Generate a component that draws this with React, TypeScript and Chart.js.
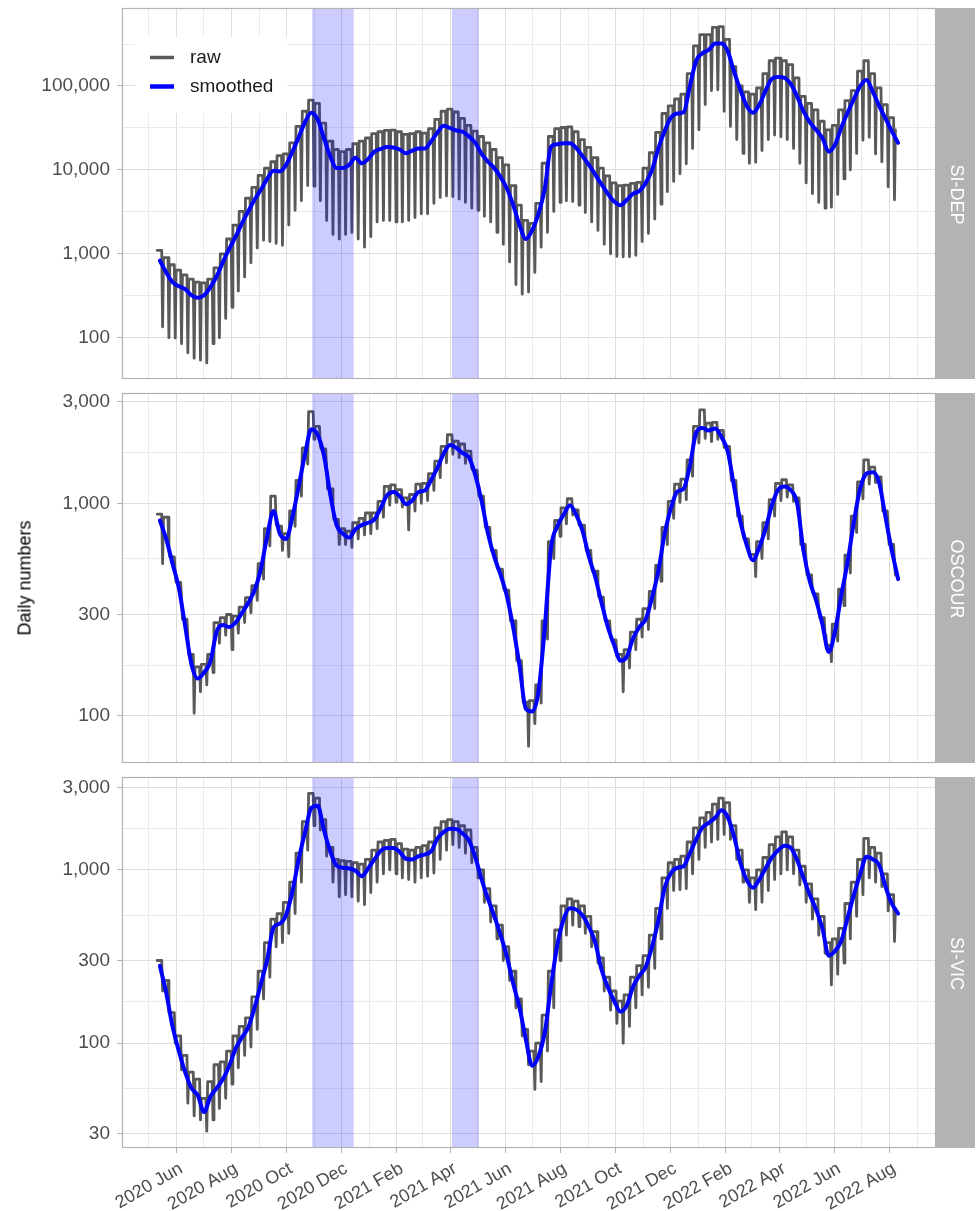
import React, { useEffect, useRef } from 'react';
import { Chart, registerables } from 'chart.js';

Chart.register(...registerables);

const FONT = '"Liberation Sans", Arial, Helvetica, sans-serif';
const MONTH_NAMES = ['Jan', 'Feb', 'Mar', 'Apr', 'May', 'Jun', 'Jul', 'Aug', 'Sep', 'Oct', 'Nov', 'Dec'];

// Week i starts on Monday WEEK0_MONDAY + 7*i (weekly readings of the picture)
const WEEK0_MONDAY = '2020-05-11';
const DATA_START = '2020-05-13';
const DATA_END = '2022-08-12';
const LOCKDOWN_PERIODS: [string, string][] = [
  ['2020-10-30', '2020-12-15'],
  ['2021-04-03', '2021-05-03'],
];

const SIDEP_MAJOR = [100, 1000, 10000, 100000];
const OSCOUR_MAJOR = [100, 300, 1000, 3000];
const SIVIC_MAJOR = [30, 100, 300, 1000, 3000];

// ---------- SI-DEP ----------
const sidepSmooth = [
  830, 600, 460, 410, 380, 320, 300, 320, 400, 540,
  800, 1150, 1600, 2300, 3200, 4400, 5800, 7800, 9800, 9600,
  11500, 16500, 24500, 37000, 48000, 40000, 24000, 14500, 10500, 10500,
  11500, 14000, 12000, 13500, 16500, 17800, 18800, 18500, 17500, 15800,
  17000, 18000, 18000, 22000, 28000, 33500, 31500, 29500, 28500, 25000,
  21000, 15500, 12500, 10500, 8200, 6000, 3800, 2200, 1500, 1900,
  3000, 6000, 19000, 20200, 20800, 20800, 18200, 14500, 11500, 8800,
  6700, 5200, 4200, 3800, 4400, 5200, 5600, 7000, 10000, 18000,
  29000, 42000, 47000, 48500, 100000, 200000, 245000, 270000, 320000, 320000,
  260000, 148000, 90000, 58000, 48000, 60000, 88000, 122000, 128000, 125000,
  105000, 75000, 50000, 37000, 30000, 24000, 16500, 20000, 32000, 48000,
  70000, 100000, 118000, 85000, 58000, 41000, 29000, 21000,
];
const sidepHigh = [
  1100, 900, 740, 640, 560, 500, 460, 450, 500, 680,
  1000, 1500, 2200, 3200, 4600, 6200, 8600, 10500, 12500, 14800,
  15500, 21000, 33000, 50000, 68000, 62000, 36000, 22000, 17500, 16500,
  17500, 20500, 22000, 24000, 27000, 28500, 29500, 29700, 28500, 26500,
  27000, 28500, 27500, 31000, 40000, 50000, 53000, 49000, 41000, 34000,
  29000, 25000, 21000, 17500, 14000, 11500, 6500, 3800, 2500, 2300,
  4000, 12000, 25000, 31000, 32000, 32500, 28500, 23000, 18500, 14000,
  10500, 8500, 7000, 6500, 6600, 6900, 7100, 10500, 16000, 28000,
  47000, 58000, 70000, 80000, 140000, 300000, 410000, 410000, 500000, 510000,
  360000, 170000, 100000, 85000, 80000, 95000, 140000, 200000, 215000, 200000,
  180000, 125000, 75000, 62000, 52000, 38000, 30000, 34000, 52000, 67000,
  88000, 150000, 200000, 140000, 95000, 60000, 42000, 30000,
];
const sidepLow = [
  135, 100, 99, 85, 66, 57, 54, 50, 85, 100,
  170, 230, 360, 530, 780, 1170, 1450, 1400, 1330, 1260,
  2200, 3300, 4300, 6500, 6400, 4300, 2500, 1700, 1500, 1700,
  1800, 1500, 1200, 1600, 2400, 2500, 2500, 2400, 2400, 2500,
  2700, 3000, 3000, 4000, 4700, 4900, 4800, 4500, 4100, 3500,
  3300, 2800, 2400, 1800, 1300, 800, 430, 330, 350, 600,
  1200, 1800, 3200, 4100, 4300, 4200, 3800, 3100, 2400, 1900,
  1300, 1000, 930, 920, 920, 960, 1400, 1750, 2600, 3900,
  5500, 7300, 9000, 11800, 18000, 30000, 60000, 88000, 90000, 50000,
  33000, 23000, 15700, 12000, 12300, 17000, 23000, 26000, 24800, 23000,
  18000, 12000, 7000, 5200, 4100, 3500, 3600, 5100, 7800, 10000,
  15700, 22600, 24500, 15500, 12500, 6300, 4400, null,
];

// ---------- OSCOUR ----------
const oscourSmooth = [
  830, 680, 520, 400, 265, 175, 150, 160, 180, 250,
  268, 262, 275, 305, 340, 390, 490, 700, 920, 720,
  680, 860, 1200, 1700, 2230, 2100, 1680, 1100, 790, 720,
  690, 755, 790, 810, 840, 950, 1090, 1130, 1080, 990,
  1030, 1130, 1150, 1290, 1470, 1720, 1880, 1820, 1720, 1640,
  1350, 1020, 720, 560, 460, 365, 260, 172, 108, 105,
  130, 260, 620, 780, 885, 980, 880, 740, 560, 450,
  340, 262, 215, 182, 190, 232, 262, 285, 360, 480,
  720, 950, 1134, 1170, 1500, 2150, 2260, 2200, 2250, 2050,
  1750, 1200, 820, 637, 540, 620, 760, 980, 1160, 1200,
  1150, 1000, 600, 430, 350, 270, 200, 250, 370, 530,
  820, 1176, 1380, 1400, 1250, 860, 600, 440,
];
const oscourHigh = [
  890, 860, 560, 425, 285, 195, 170, 175, 195, 275,
  290, 300, 295, 325, 360, 410, 520, 760, 1080, 780,
  720, 920, 1280, 1820, 2700, 2300, 1800, 1170, 840, 760,
  740, 810, 850, 900, 900, 1020, 1200, 1220, 1160, 1060,
  1100, 1230, 1240, 1380, 1580, 1850, 2100, 1960, 1900, 1760,
  1430, 1080, 770, 600, 490, 390, 280, 182, 116, 118,
  140, 280, 660, 830, 950, 1050, 930, 790, 600, 480,
  362, 280, 228, 195, 205, 248, 285, 320, 385, 510,
  770, 1020, 1230, 1300, 1600, 2300, 2750, 2380, 2400, 2200,
  1850, 1280, 870, 680, 575, 660, 810, 1040, 1240, 1290,
  1220, 1060, 640, 460, 375, 290, 215, 270, 395, 570,
  870, 1260, 1600, 1480, 1330, 920, 640, 460,
];
const oscourLow = [
  520, 600, 460, 360, 235, 103, 130, 140, 160, 220,
  240, 205, 245, 275, 305, 350, 440, 630, 800, 600,
  560, 780, 1080, 1530, 2000, 1850, 1450, 960, 640, 640,
  620, 680, 710, 720, 760, 860, 980, 1010, 960, 750,
  920, 1000, 1030, 1150, 1320, 1550, 1700, 1640, 1540, 1460,
  1200, 910, 640, 500, 410, 325, 230, 150, 72, 92,
  115, 230, 550, 700, 800, 880, 790, 660, 500, 400,
  305, 235, 192, 130, 168, 205, 235, 255, 320, 430,
  640, 850, 1010, 1040, 1340, 1920, 2020, 1950, 2000, 1830,
  1560, 1070, 730, 570, 452, 550, 680, 870, 1030, 1070,
  1020, 890, 530, 385, 310, 240, 180, 225, 330, 470,
  730, 1050, 1230, 1250, 1110, 770, 530, null,
];

// ---------- SI-VIC ----------
const sivicSmooth = [
  280, 195, 125, 90, 68, 55, 50, 40, 49, 55,
  62, 74, 93, 108, 123, 160, 220, 303, 465, 490,
  550, 750, 1150, 1650, 2280, 2350, 1700, 1280, 1060, 1030,
  1020, 990, 920, 1020, 1150, 1290, 1340, 1340, 1270, 1160,
  1150, 1200, 1230, 1280, 1520, 1660, 1730, 1720, 1620, 1480,
  1180, 880, 680, 540, 420, 315, 220, 160, 105, 74,
  84, 115, 215, 370, 520, 600, 590, 545, 470, 380,
  265, 210, 175, 152, 165, 212, 245, 275, 360, 510,
  790, 960, 1030, 1050, 1250, 1500, 1760, 1870, 2000, 2210,
  2020, 1560, 1100, 876, 790, 880, 1020, 1180, 1300, 1380,
  1340, 1140, 900, 720, 590, 460, 320, 340, 390, 530,
  720, 950, 1190, 1150, 1070, 800, 640, 560,
];
const sivicHigh = [
  300, 230, 150, 110, 85, 68, 62, 48, 60, 75,
  78, 90, 110, 125, 140, 185, 260, 380, 520, 560,
  650, 850, 1250, 1900, 2770, 2600, 1950, 1350, 1150, 1130,
  1120, 1100, 1080, 1150, 1300, 1450, 1480, 1500, 1420, 1320,
  1300, 1350, 1380, 1450, 1750, 1900, 1950, 1900, 1800, 1700,
  1350, 1000, 780, 620, 480, 360, 260, 180, 120, 90,
  100, 145, 260, 450, 620, 680, 660, 620, 540, 440,
  310, 240, 200, 175, 190, 240, 280, 320, 420, 600,
  900, 1100, 1150, 1200, 1450, 1750, 2000, 2150, 2400, 2600,
  2450, 1800, 1300, 1000, 900, 1000, 1180, 1400, 1550, 1660,
  1550, 1300, 1050, 830, 680, 540, 380, 400, 460, 640,
  850, 1150, 1520, 1350, 1250, 950, 720, 600,
];
const sivicLow = [
  200, 150, 100, 70, 45, 38, 36, 31, 36, 42,
  48, 58, 72, 85, 95, 120, 180, 240, 360, 380,
  430, 560, 850, 1300, 1800, 1700, 1200, 850, 700, 720,
  700, 660, 630, 740, 850, 950, 1000, 950, 900, 880,
  850, 900, 920, 960, 1150, 1300, 1400, 1350, 1250, 1100,
  900, 650, 500, 400, 300, 230, 160, 110, 75, 54,
  60, 90, 160, 300, 420, 480, 470, 430, 360, 290,
  200, 155, 130, 100, 125, 160, 190, 210, 270, 400,
  600, 760, 770, 780, 950, 1150, 1350, 1450, 1500, 1600,
  1500, 1150, 850, 650, 590, 650, 760, 880, 950, 1000,
  950, 820, 650, 520, 420, 330, 217, 250, 290, 400,
  540, 720, 900, 850, 800, 580, 386, null,
];

// ---------- helpers ----------
const ORIGIN = Date.UTC(2020, 5, 1);
function dayOf(iso: string): number {
  const [y, m, d] = iso.split('-').map(Number);
  return (Date.UTC(y, m - 1, d) - ORIGIN) / 86400000;
}

const START_DAY = dayOf(DATA_START);
const END_DAY = dayOf(DATA_END);
const SPAN = END_DAY - START_DAY;
const X_MIN = START_DAY - 0.05 * SPAN;
const X_MAX = END_DAY + 0.05 * SPAN;

type MonthTick = { value: number; label: string; major: boolean };
const MONTH_TICKS: MonthTick[] = [];
for (let y = 2020, m = 4; y < 2022 || (y === 2022 && m <= 8); ) {
  const value = (Date.UTC(y, m, 1) - ORIGIN) / 86400000;
  const major = m % 2 === 1;
  MONTH_TICKS.push({ value, major, label: major ? `${y} ${MONTH_NAMES[m]}` : '' });
  m++;
  if (m > 11) { m = 0; y++; }
}
const X_MAJOR = new Set(MONTH_TICKS.filter((t) => t.major).map((t) => t.value));
const X_LABEL = new Map(MONTH_TICKS.map((t) => [t.value, t.label]));

function rawPoints(high: number[], low: (number | null)[]) {
  const w0 = dayOf(WEEK0_MONDAY);
  const pts: { x: number; y: number }[] = [];
  high.forEach((h, i) => {
    const mon = w0 + 7 * i;
    pts.push({ x: mon, y: h });
    const l = low[i];
    if (l != null) {
      pts.push({ x: mon + 5, y: h });
      pts.push({ x: mon + 6, y: l });
    }
  });
  return pts;
}
function smoothPoints(vals: number[]) {
  const w0 = dayOf(WEEK0_MONDAY);
  return vals.map((v, i) => ({ x: w0 + 7 * i + 3, y: v }));
}

function gridValues(major: number[], min: number, max: number) {
  const minors: number[] = [];
  for (let i = 0; i < major.length - 1; i++) minors.push(Math.sqrt(major[i] * major[i + 1]));
  const n = major.length;
  const below = major[0] / (major[1] / major[0]);
  const above = major[n - 1] * (major[n - 1] / major[n - 2]);
  minors.push(Math.sqrt(below * major[0]), Math.sqrt(above * major[n - 1]));
  return [...major, ...minors].filter((v) => v >= min && v <= max).sort((a, b) => a - b);
}

type Panel = {
  name: string;
  smooth: number[];
  high: number[];
  low: (number | null)[];
  major: number[];
  yMin: number;
  yMax: number;
  top: number;
  height: number;
  padTop: number;
  xHeight: number;
  showX: boolean;
  legend: boolean;
};

const PANELS: Panel[] = [
  { name: 'SI-DEP', smooth: sidepSmooth, high: sidepHigh, low: sidepLow, major: SIDEP_MAJOR,
    yMin: 32.2, yMax: 850000, top: 0, height: 385, padTop: 8, xHeight: 6, showX: false, legend: true },
  { name: 'OSCOUR', smooth: oscourSmooth, high: oscourHigh, low: oscourLow, major: OSCOUR_MAJOR,
    yMin: 60.1, yMax: 3300, top: 385, height: 385, padTop: 8, xHeight: 7, showX: false, legend: false },
  { name: 'SI-VIC', smooth: sivicSmooth, high: sivicHigh, low: sivicLow, major: SIVIC_MAJOR,
    yMin: 24.8, yMax: 3440, top: 770, height: 441, padTop: 7, xHeight: 63, showX: true, legend: false },
];

const GRID_MAJOR = '#DEDEDE';
const GRID_MINOR = '#EBEBEB';
const FRAME = '#B3B3B3';
const RAW_COLOR = '#595959';
const SMOOTH_COLOR = '#0000FF';

function zeroPadding(s: any) {
  s.paddingTop = 0;
  s.paddingBottom = 0;
  s.paddingLeft = 0;
  s.paddingRight = 0;
}

const panelDecor = {
  id: 'panelDecor',
  afterDatasetsDraw(chart: any, _args: any, opts: any) {
    const { ctx, chartArea: a } = chart;
    const xs = chart.scales.x;
    ctx.save();
    ctx.beginPath();
    ctx.rect(a.left, a.top, a.right - a.left, a.bottom - a.top);
    ctx.clip();
    ctx.fillStyle = 'rgba(0, 0, 255, 0.2)';
    LOCKDOWN_PERIODS.forEach(([s, e]) => {
      const x0 = xs.getPixelForValue(dayOf(s));
      const x1 = xs.getPixelForValue(dayOf(e));
      ctx.fillRect(x0, a.top, x1 - x0, a.bottom - a.top);
    });
    ctx.restore();

    ctx.save();
    ctx.strokeStyle = FRAME;
    ctx.lineWidth = 1.2;
    ctx.strokeRect(a.left + 0.5, a.top + 0.5, a.right - a.left - 1, a.bottom - a.top - 1);

    if (opts.legend) {
      const lx = a.left + 13;
      const ly = a.top + 29;
      ctx.fillStyle = '#FFFFFF';
      ctx.fillRect(lx, ly, 152, 76);
      const items = [
        { label: 'raw', color: RAW_COLOR, width: 3.5, y: a.top + 49.5 },
        { label: 'smoothed', color: SMOOTH_COLOR, width: 4.5, y: a.top + 78.5 },
      ];
      items.forEach((it) => {
        ctx.strokeStyle = it.color;
        ctx.lineWidth = it.width;
        ctx.lineCap = 'butt';
        ctx.beginPath();
        ctx.moveTo(a.left + 28, it.y);
        ctx.lineTo(a.left + 52, it.y);
        ctx.stroke();
        ctx.fillStyle = '#1A1A1A';
        ctx.font = `19px ${FONT}`;
        ctx.textAlign = 'left';
        ctx.textBaseline = 'middle';
        ctx.fillText(it.label, a.left + 68, it.y);
      });
    }
    ctx.restore();
  },
  afterDraw(chart: any, _args: any, opts: any) {
    const { ctx, chartArea: a } = chart;
    ctx.save();
    ctx.fillStyle = FRAME;
    ctx.fillRect(a.right, a.top, 39, a.bottom - a.top);
    ctx.translate(a.right + 19.5, (a.top + a.bottom) / 2 + 1);
    ctx.rotate(Math.PI / 2);
    ctx.fillStyle = '#FFFFFF';
    ctx.font = `18px ${FONT}`;
    ctx.textAlign = 'center';
    ctx.textBaseline = 'middle';
    ctx.fillText(opts.strip, 0, 0);
    ctx.restore();
  },
};

function makeConfig(p: Panel): any {
  const yMajor = new Set(p.major);
  const yTicks = gridValues(p.major, p.yMin, p.yMax);
  return {
    type: 'line',
    data: {
      datasets: [
        {
          label: 'smoothed',
          data: smoothPoints(p.smooth),
          borderColor: SMOOTH_COLOR,
          borderWidth: 4,
          pointRadius: 0,
          cubicInterpolationMode: 'monotone',
          borderCapStyle: 'round',
          borderJoinStyle: 'round',
          fill: false,
        },
        {
          label: 'raw',
          data: rawPoints(p.high, p.low),
          borderColor: RAW_COLOR,
          borderWidth: 2.8,
          pointRadius: 0,
          tension: 0,
          borderJoinStyle: 'round',
          borderCapStyle: 'round',
          fill: false,
        },
      ],
    },
    options: {
      responsive: false,
      animation: false,
      devicePixelRatio: 1,
      events: [],
      layout: { autoPadding: false, padding: { left: 0, right: 41, top: p.padTop, bottom: 0 } },
      plugins: {
        legend: { display: false },
        tooltip: { enabled: false },
        panelDecor: { strip: p.name, legend: p.legend },
      },
      scales: {
        x: {
          type: 'linear',
          min: X_MIN,
          max: X_MAX,
          afterBuildTicks: (s: any) => {
            s.ticks = MONTH_TICKS.map((t) => ({ value: t.value }));
          },
          afterFit: (s: any) => {
            s.height = p.xHeight;
            zeroPadding(s);
          },
          border: { display: false },
          grid: {
            color: (c: any) => (c.tick && X_MAJOR.has(c.tick.value) ? GRID_MAJOR : GRID_MINOR),
            lineWidth: 1,
            drawTicks: p.showX,
            tickLength: 5,
            tickWidth: 1,
            tickColor: (c: any) => (c.tick && X_MAJOR.has(c.tick.value) ? FRAME : 'rgba(0,0,0,0)'),
          },
          ticks: {
            display: p.showX,
            autoSkip: false,
            minRotation: 30,
            maxRotation: 30,
            padding: 5,
            labelOffset: 5,
            color: '#4D4D4D',
            font: { family: FONT, size: 18 },
            callback: (v: number) => X_LABEL.get(v) ?? '',
          },
        },
        y: {
          type: 'logarithmic',
          min: p.yMin,
          max: p.yMax,
          afterBuildTicks: (s: any) => {
            s.ticks = yTicks.map((v) => ({ value: v }));
          },
          afterFit: (s: any) => {
            s.width = 122;
            zeroPadding(s);
          },
          border: { display: false },
          grid: {
            color: (c: any) => (c.tick && yMajor.has(c.tick.value) ? GRID_MAJOR : GRID_MINOR),
            lineWidth: 1,
            tickLength: 5,
            tickWidth: 1,
            tickColor: (c: any) => (c.tick && yMajor.has(c.tick.value) ? FRAME : 'rgba(0,0,0,0)'),
          },
          ticks: {
            autoSkip: false,
            padding: 7,
            color: '#4D4D4D',
            font: { family: FONT, size: 19 },
            callback: (v: number) => (yMajor.has(v) ? Number(v).toLocaleString('en-US') : ''),
          },
        },
      },
    },
    plugins: [panelDecor],
  };
}

export default function App() {
  const r0 = useRef<HTMLCanvasElement | null>(null);
  const r1 = useRef<HTMLCanvasElement | null>(null);
  const r2 = useRef<HTMLCanvasElement | null>(null);
  const refs = [r0, r1, r2];

  useEffect(() => {
    const charts = PANELS.map((p, i) => new Chart(refs[i].current as HTMLCanvasElement, makeConfig(p)));
    return () => charts.forEach((c) => c.destroy());
  }, []);

  return (
    <div
      style={{
        position: 'absolute',
        left: 0,
        top: 0,
        width: 977,
        height: 1211,
        background: '#FFFFFF',
        overflow: 'hidden',
      }}
    >
      {PANELS.map((p, i) => (
        <canvas
          key={p.name}
          ref={refs[i]}
          width={977}
          height={p.height}
          style={{ position: 'absolute', left: 0, top: p.top, width: 977, height: p.height }}
        />
      ))}
      <div
        style={{
          position: 'absolute',
          left: 25,
          top: 578,
          transform: 'translate(-50%, -50%) rotate(-90deg)',
          font: `18px ${FONT}`,
          color: '#000000',
          whiteSpace: 'nowrap',
        }}
      >
        Daily numbers
      </div>
    </div>
  );
}
